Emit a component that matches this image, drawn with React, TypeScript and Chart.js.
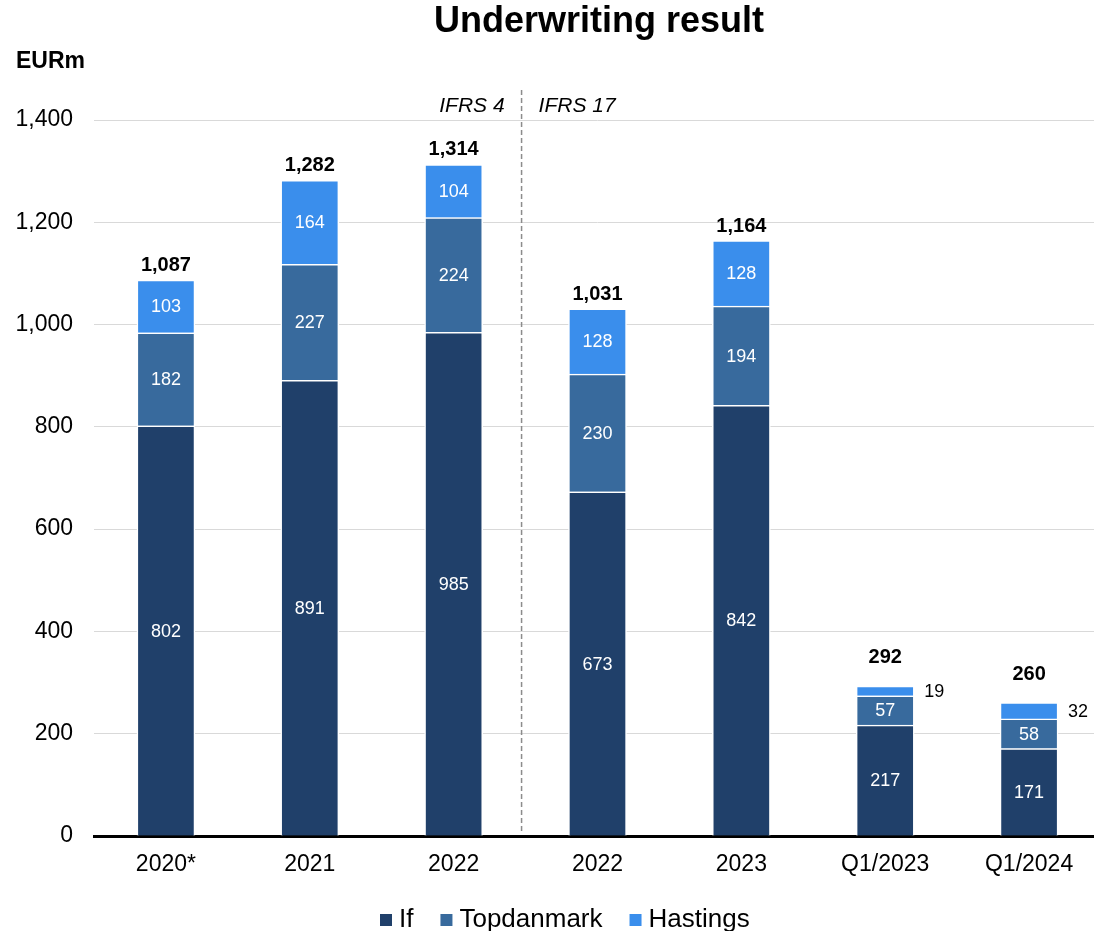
import React, { useEffect, useRef } from 'react';
import { Chart, registerables } from 'chart.js';

Chart.register(...registerables);

const chartTitle = 'Underwriting result';
const unitLabel = 'EURm';
const regimeLabels = ['IFRS 4', 'IFRS 17'];
const categories = ['2020*', '2021', '2022', '2022', '2023', 'Q1/2023', 'Q1/2024'];
const seriesNames = ['If', 'Topdanmark', 'Hastings'];
const ifValues = [802, 891, 985, 673, 842, 217, 171];
const topdanmarkValues = [182, 227, 224, 230, 194, 57, 58];
const hastingsValues = [103, 164, 104, 128, 128, 19, 32];
const totalLabels = ['1,087', '1,282', '1,314', '1,031', '1,164', '292', '260'];
const yTickValues = [0, 200, 400, 600, 800, 1000, 1200, 1400];
const seriesColors = ['#20406a', '#386a9d', '#3a8eec'];

const FONT = '"Liberation Sans", Arial, Helvetica, sans-serif';

const overlayPlugin = {
  id: 'overlay',
  afterDraw(chart: any) {
    const ctx = chart.ctx as CanvasRenderingContext2D;
    const xs = chart.scales.x;
    const area = chart.chartArea;
    ctx.save();

    // Title
    ctx.fillStyle = '#000';
    ctx.font = `bold 36px ${FONT}`;
    ctx.textAlign = 'center';
    ctx.textBaseline = 'alphabetic';
    ctx.fillText(chartTitle, 599, 32);

    // Unit label
    ctx.font = `bold 23px ${FONT}`;
    ctx.textAlign = 'left';
    ctx.fillText(unitLabel, 16, 68);

    // Regime separator
    const lineX = xs.getPixelForValue(2.5) - 4;
    ctx.strokeStyle = '#8c8c8c';
    ctx.lineWidth = 1.5;
    ctx.setLineDash([5, 3]);
    ctx.beginPath();
    ctx.moveTo(lineX, 90);
    ctx.lineTo(lineX, area.bottom - 2);
    ctx.stroke();
    ctx.setLineDash([]);

    ctx.font = `italic 21px ${FONT}`;
    ctx.fillStyle = '#000';
    ctx.textAlign = 'right';
    ctx.fillText(regimeLabels[0], lineX - 17, 112);
    ctx.textAlign = 'left';
    ctx.fillText(regimeLabels[1], lineX + 17, 112);

    // Segment labels
    const datasets = chart.data.datasets;
    const topSmall: boolean[] = categories.map(() => false);
    datasets.forEach((ds: any, di: number) => {
      const meta = chart.getDatasetMeta(di);
      meta.data.forEach((bar: any, j: number) => {
        const v = ds.data[j];
        const h = Math.abs(bar.base - bar.y);
        const cy = (bar.y + bar.base) / 2;
        ctx.font = `18px ${FONT}`;
        ctx.textBaseline = 'middle';
        if (h > 24) {
          ctx.fillStyle = '#fff';
          ctx.textAlign = 'center';
          ctx.fillText(String(v), bar.x, cy + 1);
        } else {
          ctx.fillStyle = '#000';
          ctx.textAlign = 'left';
          ctx.fillText(String(v), bar.x + bar.width / 2 + 10, cy + 1);
          if (di === datasets.length - 1) topSmall[j] = true;
        }
      });
    });

    // Totals
    const topMeta = chart.getDatasetMeta(datasets.length - 1);
    ctx.font = `bold 20px ${FONT}`;
    ctx.fillStyle = '#000';
    ctx.textAlign = 'center';
    ctx.textBaseline = 'alphabetic';
    topMeta.data.forEach((bar: any, j: number) => {
      const gap = topSmall[j] ? 23 : 9;
      ctx.fillText(totalLabels[j], bar.x, bar.y - gap);
    });

    // Legend
    ctx.font = `26px ${FONT}`;
    ctx.textBaseline = 'alphabetic';
    ctx.textAlign = 'left';
    let lx = 380;
    const baseY = 927;
    seriesNames.forEach((name, i) => {
      ctx.fillStyle = seriesColors[i];
      ctx.fillRect(lx, 914, 12, 12);
      lx += 12 + 7;
      ctx.fillStyle = '#000';
      ctx.fillText(name, lx, baseY);
      lx += ctx.measureText(name).width + 27;
    });

    ctx.restore();
  },
};

export default function App() {
  const canvasRef = useRef<HTMLCanvasElement | null>(null);

  useEffect(() => {
    if (!canvasRef.current) return;
    const values = [ifValues, topdanmarkValues, hastingsValues];
    const chart = new Chart(canvasRef.current, {
      type: 'bar',
      data: {
        labels: categories,
        datasets: seriesNames.map((name, i) => ({
          label: name,
          data: values[i],
          backgroundColor: seriesColors[i],
          borderColor: '#ffffff',
          borderWidth: 1.5,
          borderSkipped: 'start',
          barThickness: 58,
        })),
      },
      options: {
        responsive: false,
        devicePixelRatio: 1,
        animation: false,
        layout: { padding: { left: 0, right: 9, top: 120, bottom: 0 } },
        plugins: {
          legend: { display: false },
          title: { display: false },
          tooltip: { enabled: false },
        },
        scales: {
          x: {
            stacked: true,
            grid: { display: false, drawTicks: false },
            border: { display: true, color: '#000', width: 3 },
            ticks: {
              color: '#000',
              font: { family: FONT, size: 23 },
              padding: 15,
              maxRotation: 0,
            },
            afterFit: (scale: any) => {
              scale.height = 95;
            },
          },
          y: {
            stacked: true,
            min: 0,
            max: 1400,
            afterBuildTicks: (scale: any) => {
              scale.ticks = yTickValues.map((v) => ({ value: v }));
            },
            grid: { color: '#d9d9d9', lineWidth: 1, drawTicks: false },
            border: { display: false },
            ticks: {
              color: '#000',
              font: { family: FONT, size: 23 },
              padding: 21,
              callback: (v: any) => Number(v).toLocaleString('en-US'),
            },
            afterFit: (scale: any) => {
              scale.width = 94;
            },
          },
        },
      },
      plugins: [overlayPlugin],
    });
    return () => chart.destroy();
  }, []);

  return (
    <div
      style={{
        position: 'absolute',
        left: 0,
        top: 0,
        width: 1094,
        height: 931,
        overflow: 'hidden',
        background: '#fff',
      }}
    >
      <canvas ref={canvasRef} width={1110} height={931} style={{ display: 'block' }} />
    </div>
  );
}
